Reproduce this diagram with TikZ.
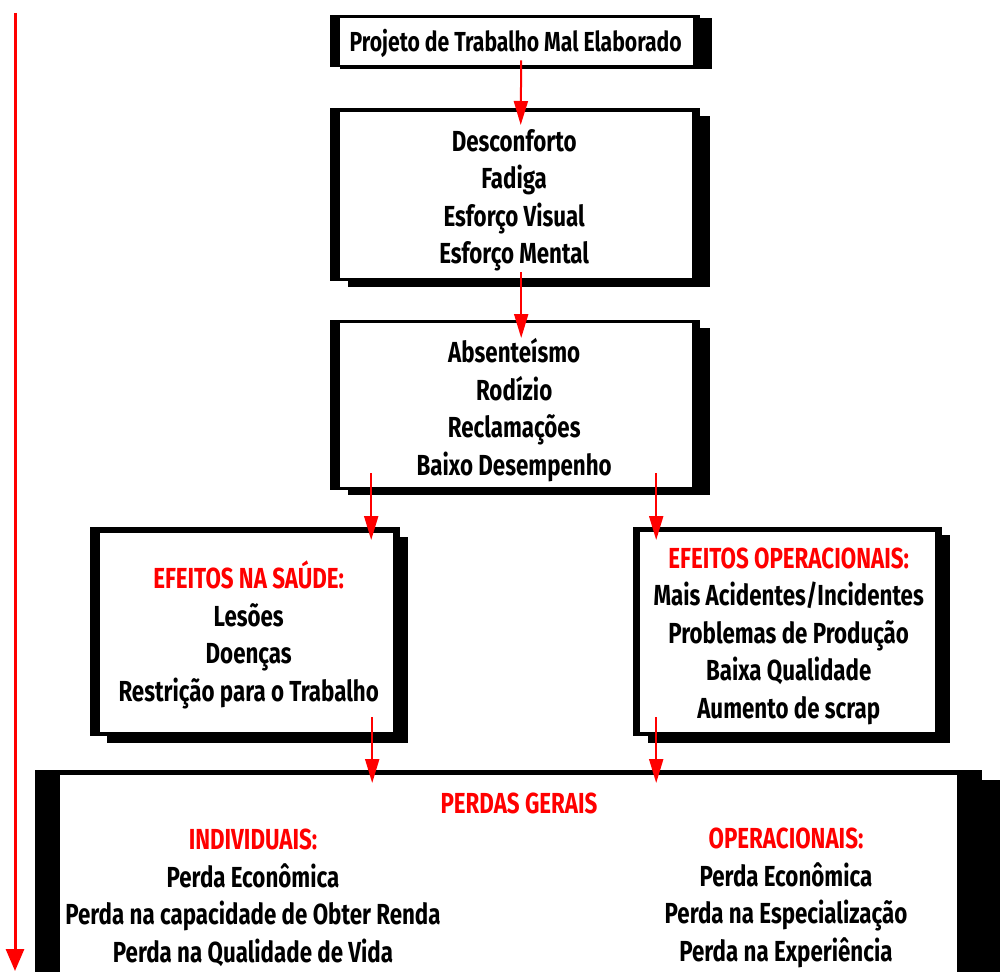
\documentclass[tikz,border=0pt]{standalone}
\usepackage{fontspec}
\newfontfamily\agency{Fira Sans}[FakeStretch=0.77]
\usetikzlibrary{arrows.meta}
\definecolor{hred}{RGB}{255,0,0}
\tikzset{
  inbox/.style={fill=white, inner sep=0pt, anchor=north west},
  txt/.style={inner sep=0pt, align=center, font=\agency\bfseries\fontsize{29}{37.5}\selectfont, text=black},
  arr/.style={draw=hred, line width=2pt, -{Triangle[width=14pt,length=24pt,fill=hred]}},
  longarr/.style={draw=hred, line width=3pt, -{Triangle[width=18pt,length=22pt,fill=hred]}},
}
\newcommand{\hd}[1]{\textcolor{hred}{#1}}
\begin{document}
\begin{tikzpicture}[x=1pt,y=-1pt]
\useasboundingbox (0,0) rectangle (1000,971);
\clip (0,0) rectangle (1000,971);
% box 1
\fill (340,18) rectangle (712,69);
\fill (330,15) rectangle (700,67);
\node[inbox, minimum width=353pt, minimum height=47pt] (b1) at (340,18) {};
\node[txt, font=\agency\bfseries\fontsize{27.5}{30}\selectfont] (t1) at ([xshift=-1pt,yshift=-1.5pt]b1.center) {Projeto de Trabalho Mal Elaborado};
% box 2
\fill (348,116) rectangle (710,287);
\fill (330,108) rectangle (700,281);
\node[inbox, minimum width=352pt, minimum height=166pt] (b2) at (340,112) {};
\node[txt] (t2) at ([xshift=-2pt,yshift=-5pt]b2.center) {Desconforto\\Fadiga\\Esforço Visual\\Esforço Mental};
% box 3
\fill (348,328) rectangle (710,495);
\fill (330,320) rectangle (700,490);
\node[inbox, minimum width=352pt, minimum height=164pt] (b3) at (340,323) {};
\node[txt] (t3) at ([xshift=-2pt,yshift=-5pt]b3.center) {Absenteísmo\\Rodízio\\Reclamações\\Baixo Desempenho};
% box 4
\fill (107,537) rectangle (408,743);
\fill (90,527) rectangle (400,736);
\node[inbox, minimum width=293pt, minimum height=199pt] (b4) at (100,533) {};
\node[txt] (t4) at ([xshift=2pt,yshift=-2pt]b4.center) {\hd{EFEITOS NA SAÚDE:}\\Lesões\\Doenças\\Restrição para o Trabalho};
% box 5
\fill (648,535) rectangle (950,743);
\fill (633,527) rectangle (942,736);
\node[inbox, minimum width=295pt, minimum height=200pt] (b5) at (640,532) {};
\node[txt] (t5) at ([xshift=1pt,yshift=-4pt]b5.center) {\hd{EFEITOS OPERACIONAIS:}\\Mais Acidentes/Incidentes\\Problemas de Produção\\Baixa Qualidade\\Aumento de scrap};
% box 6
\fill (55,780) rectangle (1000,1000);
\fill (35,770) rectangle (982,1000);
\node[inbox, minimum width=897pt, minimum height=225pt] (b6) at (60,775) {};
\node[txt] (perdas) at (519,803) {\hd{PERDAS GERAIS}};
\node[txt] (ind) at (253,898) {\hd{INDIVIDUAIS:}\\Perda Econômica\\Perda na capacidade de Obter Renda\\Perda na Qualidade de Vida};
\node[txt] (ope) at (786,898) {\hd{OPERACIONAIS:}\\Perda Econômica\\Perda na Especialização\\Perda na Experiência};
% arrows
\draw[arr] ([xshift=4.5pt,yshift=5pt]b1.south) -- ([xshift=4.5pt,yshift=-13pt]b2.north);
\draw[arr] ([xshift=5pt,yshift=6pt]b2.south) -- ([xshift=5pt,yshift=-15pt]b3.north);
\draw[arr] ([xshift=-145pt,yshift=14pt]b3.south) -- ([xshift=124.5pt,yshift=-7pt]b4.north);
\draw[arr] ([xshift=140pt,yshift=14pt]b3.south) -- ([xshift=-131.5pt,yshift=-8pt]b5.north);
\draw[arr] ([xshift=125.5pt,yshift=15pt]b4.south) -- ([xshift=-136.5pt,yshift=-8pt]b6.north);
\draw[arr] ([xshift=-131.5pt,yshift=15pt]b5.south) -- ([xshift=147.5pt,yshift=-8pt]b6.north);
\coordinate (ltop) at (15,13);
\coordinate (lbot) at (15,971);
\draw[longarr] (ltop) -- (lbot);
\end{tikzpicture}
\end{document}
